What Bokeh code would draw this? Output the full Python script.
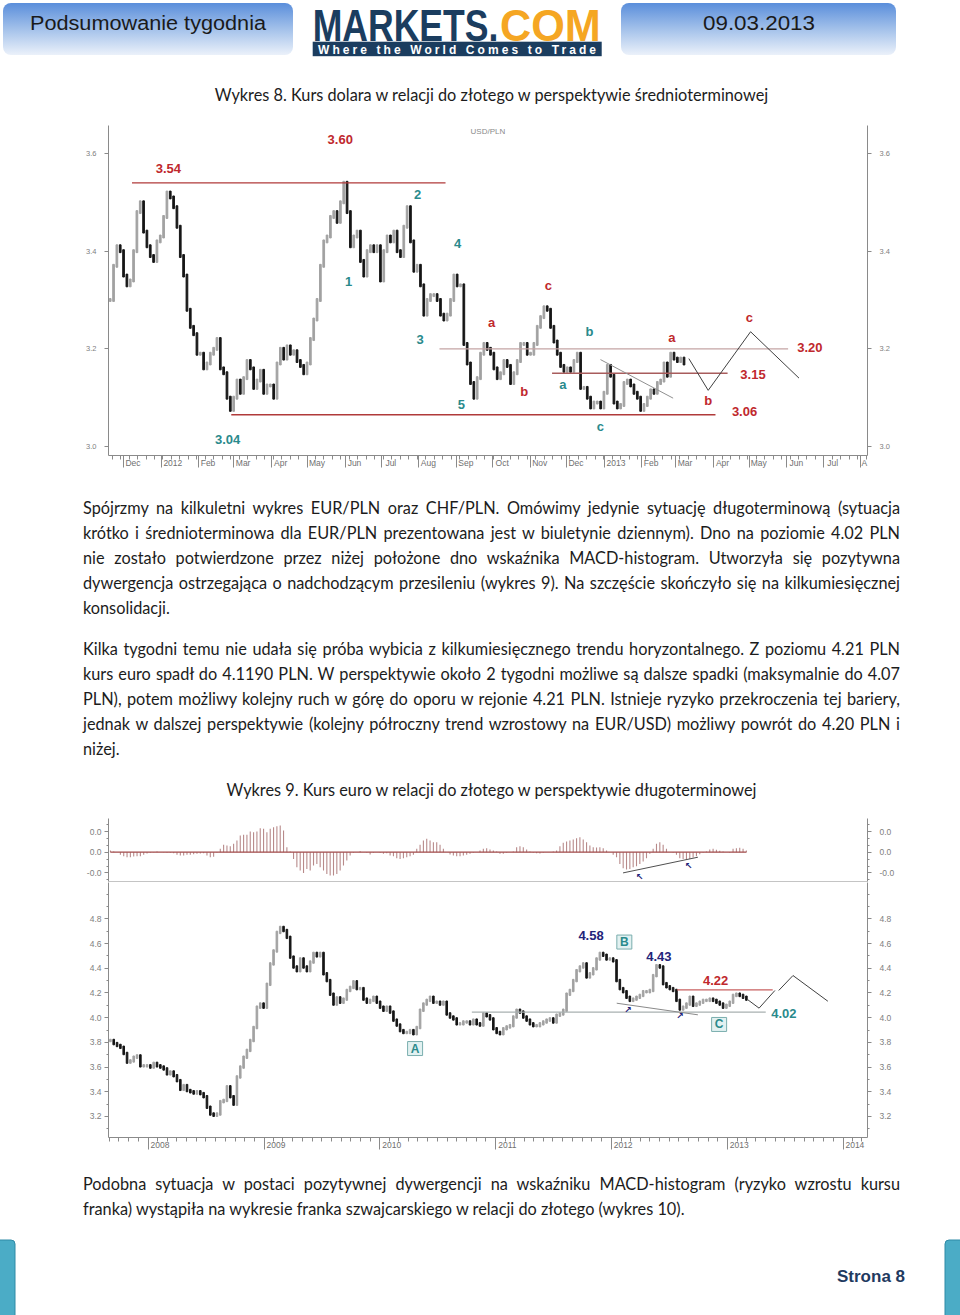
import pandas as pd
from bokeh.plotting import figure
from bokeh.models import (ColumnDataSource, Range1d, FixedTicker, LinearAxis, Span, Div)
from bokeh.layouts import column
from bokeh.core.properties import value
from bokeh.embed import file_html
from bokeh.resources import INLINE

# ---------------------------------------------------------------- data: chart 8 (USD/PLN)
usd_start, usd_end = "2011-11-20", "2013-03-08"
usd_close = [
    3.30, 3.37, 3.41, 3.40, 3.35, 3.33, 3.34, 3.40, 3.48, 3.50,
    3.44, 3.41, 3.39, 3.38, 3.42, 3.43, 3.47, 3.52, 3.51, 3.49,
    3.45, 3.39, 3.35, 3.28, 3.245, 3.23, 3.19, 3.19, 3.16, 3.17,
    3.19, 3.20, 3.22, 3.16, 3.15, 3.10, 3.075, 3.10, 3.135, 3.11,
    3.14, 3.175, 3.16, 3.12, 3.135, 3.155, 3.11, 3.125, 3.125, 3.10,
    3.17, 3.20, 3.18, 3.205, 3.19, 3.195, 3.175, 3.165, 3.15, 3.17,
    3.22, 3.26, 3.30, 3.37, 3.42, 3.43, 3.47, 3.48, 3.46, 3.50,
    3.54, 3.48, 3.41, 3.43, 3.44, 3.38, 3.35, 3.40, 3.41, 3.40,
    3.41, 3.34, 3.40, 3.43, 3.42, 3.44, 3.40, 3.39, 3.45, 3.49,
    3.42, 3.36, 3.37, 3.33, 3.27, 3.30, 3.31, 3.31, 3.30, 3.27,
    3.26, 3.27, 3.30, 3.35, 3.33, 3.33, 3.21, 3.17, 3.13, 3.10,
    3.14, 3.19, 3.21, 3.20, 3.19, 3.16, 3.14,
    3.15, 3.175, 3.165, 3.13, 3.15, 3.175, 3.21, 3.21, 3.19, 3.19,
    3.21, 3.245, 3.265, 3.285, 3.28, 3.245, 3.215, 3.19, 3.165, 3.155,
    3.16, 3.155, 3.175, 3.19, 3.12, 3.12, 3.10, 3.08, 3.09, 3.09,
    3.08, 3.11, 3.165, 3.145, 3.09, 3.08, 3.085, 3.13, 3.135, 3.125,
    3.11, 3.10, 3.075, 3.085, 3.10, 3.115, 3.11, 3.13, 3.135, 3.17,
    3.145, 3.19, 3.18, 3.175, 3.18, 3.17,
]
usd_xlim = ["2011-11-18 14:00", "2013-08-06 14:00"]
usd_ylim = [2.9816, 3.6573]
usd_yticks = [3.0, 3.2, 3.4, 3.6]
usd_month_first, usd_month_last = "2011-12-01", "2013-08-01"
usd_month_labels = ["Dec", "2012", "Feb", "Mar", "Apr", "May", "Jun", "Jul", "Aug", "Sep",
                    "Oct", "Nov", "Dec", "2013", "Feb", "Mar", "Apr", "May", "Jun", "Jul", "A"]
usd_lvl_from = ["2011-12-08", "2012-02-28", "2012-08-18", "2012-11-19"]
usd_lvl_to = ["2012-08-23", "2013-04-03", "2013-06-02", "2013-04-13"]
usd_lvl_val = [3.54, 3.065, 3.20, 3.15]
usd_lvl_col = ["#b03a3a", "#b03a3a", "#c4a4a4", "#a85c5c"]
usd_trend_dates = ["2012-12-29", "2013-02-27"]
usd_trend_vals = [3.178, 3.099]
usd_proj_dates = ["2013-03-12", "2013-03-28", "2013-05-02", "2013-06-11"]
usd_proj_vals = [3.18, 3.115, 3.235, 3.14]
RED, TEAL, NAVY = "#c0282d", "#2a8a8c", "#23247a"
usd_lbl_text = ["3.60", "3.54", "3.04", "1", "2", "3", "4", "5", "a", "b", "c",
                "a", "b", "c", "a", "b", "c", "3.20", "3.15", "3.06"]
usd_lbl_date = ["2012-05-28", "2012-01-07", "2012-02-25", "2012-06-04", "2012-07-31",
                "2012-08-02", "2012-09-02", "2012-09-05", "2012-09-30", "2012-10-27",
                "2012-11-16", "2012-11-28", "2012-12-20", "2012-12-29", "2013-02-26",
                "2013-03-28", "2013-05-01", "2013-06-20", "2013-05-04", "2013-04-27"]
usd_lbl_val = [3.629, 3.569, 3.014, 3.338, 3.516, 3.219, 3.416, 3.086, 3.254, 3.113,
               3.330, 3.127, 3.236, 3.041, 3.223, 3.094, 3.264, 3.203, 3.147, 3.072]
usd_lbl_col = [RED, RED, TEAL, TEAL, TEAL, TEAL, TEAL, TEAL, RED, RED, RED,
               TEAL, TEAL, TEAL, RED, RED, RED, RED, RED, RED]

# ---------------------------------------------------------------- data: chart 9 (EUR/PLN)
eur_start, eur_end = "2007-09-04", "2013-03-02"
eur_close = [
    3.815, 3.79, 3.775, 3.76, 3.71, 3.64, 3.65, 3.68, 3.69, 3.61,
    3.61, 3.61, 3.60, 3.63, 3.61, 3.60, 3.585, 3.545, 3.56, 3.53,
    3.49, 3.42, 3.45, 3.41, 3.40, 3.39, 3.40, 3.385, 3.36, 3.275,
    3.22, 3.21, 3.22, 3.32, 3.33, 3.44, 3.36, 3.30, 3.52, 3.60,
    3.68, 3.735, 3.815, 3.92, 4.085, 4.11, 4.085, 4.27, 4.435, 4.54,
    4.69, 4.73, 4.705, 4.65, 4.49, 4.41, 4.38, 4.475, 4.41, 4.38,
    4.45, 4.52, 4.50, 4.52, 4.355, 4.30, 4.19, 4.11, 4.16, 4.125,
    4.15, 4.22, 4.245, 4.29, 4.235, 4.235, 4.15, 4.125, 4.14, 4.165,
    4.125, 4.085, 4.06, 4.085, 4.045, 3.98, 3.94, 3.895, 3.88, 3.88,
    3.895, 3.87, 3.92, 4.06, 4.11, 4.14, 4.165, 4.125, 4.125, 4.11,
    4.125, 4.03, 4.005, 3.99, 3.95, 3.95, 3.965, 3.965, 3.95, 3.98,
    3.95, 3.94, 4.03, 4.015, 3.99, 3.91, 3.88,
    3.87, 3.91, 3.925, 3.935, 4.005, 4.06, 4.045, 4.005, 3.98, 3.95,
    3.935, 3.935, 3.95, 3.965, 3.98, 3.99, 3.965, 4.02, 4.03, 4.06,
    4.19, 4.22, 4.30, 4.38, 4.41, 4.435, 4.33, 4.355, 4.395, 4.475,
    4.52, 4.505, 4.475, 4.475, 4.46, 4.30, 4.235, 4.21, 4.165, 4.14,
    4.15, 4.165, 4.18, 4.21, 4.21, 4.22, 4.34, 4.42, 4.41, 4.275,
    4.25, 4.235, 4.22, 4.14, 4.07, 4.085, 4.11, 4.165, 4.10, 4.11,
    4.125, 4.14, 4.14, 4.15, 4.14, 4.125, 4.11, 4.085, 4.10, 4.125,
    4.18, 4.19, 4.18, 4.165, 4.15,
]
macd_hist = [
    0.0025, 0.001, 0.0, -0.004, -0.006, -0.0075, -0.0075, -0.0065, -0.006, -0.006,
    -0.004, -0.002, -0.001, -0.0005, 0.001, 0.0, -0.0005, -0.001, -0.001, -0.0015,
    -0.004, -0.005, -0.005, -0.004, -0.004, -0.003, -0.0025, -0.002, -0.0015, -0.005,
    -0.0075, -0.007, -0.001, 0.005, 0.011, 0.010, 0.009, 0.0125, 0.0175, 0.025,
    0.026, 0.026, 0.031, 0.030, 0.031, 0.036, 0.035, 0.030, 0.035, 0.0375,
    0.039, 0.040, 0.0325, 0.0075, 0.001, -0.010, -0.0225, -0.0275, -0.031, -0.025,
    -0.0275, -0.020, -0.0175, -0.0225, -0.0275, -0.0325, -0.035, -0.035, -0.0325, -0.0275,
    -0.020, -0.0125, -0.005, -0.001, 0.0, 0.0015, 0.0, -0.001, -0.0035, -0.001,
    0.0, -0.001, -0.0025, -0.0015, -0.005, -0.006, -0.009, -0.010, -0.009, -0.0075,
    -0.006, -0.004, 0.005, 0.011, 0.0175, 0.020, 0.0175, 0.015, 0.015, 0.011,
    0.005, 0.0, -0.0035, -0.005, -0.006, -0.006, -0.005, -0.004, -0.0025, -0.001,
    0.0, 0.0025, 0.005, 0.006, 0.004, 0.0025, 0.001,
    -0.0025, -0.0025, -0.001, 0.0, 0.001, 0.0075, 0.009, 0.0075, 0.004, 0.001,
    -0.001, -0.0015, -0.002, -0.001, 0.0, 0.0, 0.001, 0.0025, 0.009, 0.014,
    0.016, 0.0175, 0.019, 0.021, 0.0225, 0.019, 0.015, 0.010, 0.0075, 0.007,
    0.0075, 0.006, 0.0025, 0.0, -0.004, -0.0075, -0.0175, -0.024, -0.026, -0.025,
    -0.0225, -0.021, -0.0175, -0.014, -0.009, -0.0025, 0.005, 0.0125, 0.015, 0.011,
    0.005, 0.0, -0.001, -0.004, -0.009, -0.010, -0.011, -0.010, -0.008, -0.006,
    -0.003, -0.001, 0.001, 0.004, 0.005, 0.0035, 0.002, 0.001, 0.0, -0.001,
    0.005, 0.006, 0.0065, 0.005, 0.0025,
]
eur_xlim = ["2007-08-29", "2014-03-19"]
eur_ylim = [3.030, 5.094]
macd_ylim = [-0.0439, 0.0505]
eur_yticks = [3.2, 3.4, 3.6, 3.8, 4.0, 4.2, 4.4, 4.6, 4.8]
eur_yminor = [3.1, 3.2, 3.3, 3.4, 3.5, 3.6, 3.7, 3.8, 3.9, 4.0, 4.1, 4.2, 4.3, 4.4,
              4.5, 4.6, 4.7, 4.8, 4.9, 5.0]
macd_ticks = [-0.031, 0.0, 0.031]
macd_tick_labels = ["-0.0", "0.0", "0.0"]
macd_minor = [-0.0413, -0.031, -0.0207, -0.0103, 0.0, 0.0103, 0.0207, 0.031, 0.0413]
eur_year_ticks = ["2008-01-01", "2009-01-01", "2010-01-01", "2011-01-01",
                  "2012-01-01", "2013-01-01", "2014-01-01"]
eur_year_labels = ["2008", "2009", "2010", "2011", "2012", "2013", "2014"]
eur_lvl_from = ["2012-07-26", "2010-10-18"]
eur_lvl_to = ["2013-05-24", "2013-05-02"]
eur_lvl_val = [4.225, 4.045]
eur_lvl_col = ["#c86060", "#a8b0b0"]
eur_trend_dates = ["2012-01-18", "2012-09-30"]
eur_trend_vals = [4.117, 4.023]
eur_proj1_dates = ["2013-03-07", "2013-04-11", "2013-05-31"]
eur_proj1_vals = [4.144, 4.077, 4.22]
eur_proj2_dates = ["2013-06-12", "2013-07-27", "2013-11-14"]
eur_proj2_vals = [4.22, 4.341, 4.133]
eur_lbl_text = ["4.58", "4.43", "4.22", "4.02"]
eur_lbl_date = ["2011-10-29", "2012-05-30", "2012-11-25", "2013-06-28"]
eur_lbl_val = [4.665, 4.495, 4.30, 4.033]
eur_lbl_col = [NAVY, NAVY, RED, TEAL]
eur_box_text = ["A", "B", "C"]
eur_box_date = ["2010-04-22", "2012-02-11", "2012-12-06"]
eur_box_val = [3.75, 4.612, 3.945]
eur_arrow_date = ["2012-02-22", "2012-08-04"]
eur_arrow_val = [4.058, 4.010]
macd_trend_dates = ["2012-02-07", "2012-09-30"]
macd_trend_vals = [-0.031, -0.0075]
macd_arrow_date = ["2012-03-31", "2012-09-01"]
macd_arrow_val = [-0.0365, -0.020]

# ---------------------------------------------------------------- texts
caption1 = "Wykres 8. Kurs dolara w relacji do złotego w perspektywie średnioterminowej"
caption2 = "Wykres 9. Kurs euro w relacji do złotego w perspektywie długoterminowej"
par1 = ["Spójrzmy na kilkuletni wykres EUR/PLN oraz CHF/PLN. Omówimy jedynie sytuację długoterminową (sytuacja",
        "krótko i średnioterminowa dla EUR/PLN prezentowana jest w biuletynie dziennym). Dno na poziomie 4.02 PLN",
        "nie zostało potwierdzone przez niżej położone dno wskaźnika MACD-histogram. Utworzyła się pozytywna",
        "dywergencja ostrzegająca o nadchodzącym przesileniu (wykres 9). Na szczęście skończyło się na kilkumiesięcznej",
        "konsolidacji."]
par2 = ["Kilka tygodni temu nie udała się próba wybicia z kilkumiesięcznego trendu horyzontalnego. Z poziomu 4.21 PLN",
        "kurs euro spadł do 4.1190 PLN. W perspektywie około 2 tygodni możliwe są dalsze spadki (maksymalnie do 4.07",
        "PLN), potem możliwy kolejny ruch w górę do oporu w rejonie 4.21 PLN. Istnieje ryzyko przekroczenia tej bariery,",
        "jednak w dalszej perspektywie (kolejny półroczny trend wzrostowy na EUR/USD) możliwy powrót do 4.20 PLN i",
        "niżej."]
par3 = ["Podobna sytuacja w postaci pozytywnej dywergencji na wskaźniku MACD-histogram (ryzyko wzrostu kursu",
        "franka) wystąpiła na wykresie franka szwajcarskiego w relacji do złotego (wykres 10)."]
header_left, header_right = "Podsumowanie tygodnia", "09.03.2013"
logo_main, logo_accent, logo_tag = "MARKETS.", "COM", "Where the World Comes to Trade"
footer_text = "Strona 8"


def ms(d):
    return pd.Timestamp(d).value / 1e6


AX = "#8a8a8a"
LBL_FONT = "Liberation Sans"
W = 960
NBSP = "\u00a0"


def base_fig(height, xlim, ylim, top, bottom, below=True):
    p = figure(width=W, height=height, output_backend="svg", toolbar_location=None,
               x_range=Range1d(ms(xlim[0]), ms(xlim[1])), y_range=Range1d(*ylim),
               min_border_left=108, min_border_right=93, min_border_top=top,
               min_border_bottom=bottom, x_axis_location="below" if below else None)
    p.outline_line_color = None
    p.xgrid.visible = False
    p.ygrid.visible = False
    p.background_fill_color = "white"
    p.border_fill_color = "white"
    return p


def style_y(ax, ticks, minor, labels, standoff, size):
    ax.ticker = FixedTicker(ticks=ticks, minor_ticks=minor)
    ax.major_label_overrides = {float(t): l for t, l in zip(ticks, labels)}
    ax.axis_line_color = AX
    ax.major_tick_line_color = AX
    ax.minor_tick_line_color = AX
    ax.major_tick_in = 0
    ax.major_tick_out = 4
    ax.minor_tick_in = 0
    ax.minor_tick_out = 2
    ax.major_label_standoff = standoff
    ax.major_label_text_font = LBL_FONT
    ax.major_label_text_font_size = size
    ax.major_label_text_color = "#808080"


def add_y_axes(p, ticks, minor, labels, left_standoff, size):
    style_y(p.yaxis[0], ticks, minor, labels, left_standoff, size)
    r = LinearAxis()
    style_y(r, ticks, minor, labels, 8, size)
    p.add_layout(r, "right")


def right_of_tick(label):
    # axis labels are centred on their tick: a leading no-break-space pad of about the
    # label's own width makes the visible word start just right of the tick line
    pad = {1: 3, 3: 8, 4: 10}.get(len(label), 2 * len(label) + 2)
    return NBSP * pad + label


def style_x(p, major, minor, labels):
    ax = p.xaxis[0]
    ax.ticker = FixedTicker(ticks=major, minor_ticks=minor)
    ax.major_label_overrides = {float(t): right_of_tick(l) for t, l in zip(major, labels)}
    ax.axis_line_color = AX
    ax.major_tick_line_color = AX
    ax.minor_tick_line_color = AX
    ax.major_tick_in = 0
    ax.major_tick_out = 12
    ax.minor_tick_in = 0
    ax.minor_tick_out = 4
    ax.major_label_standoff = -10
    ax.major_label_text_font = LBL_FONT
    ax.major_label_text_font_size = "8.5px"
    ax.major_label_text_color = "#707070"


def candles(p, dates, closes, width, pad):
    x = [ms(d) for d in dates]
    opens = [closes[0]] + closes[:-1]
    top = [max(o, c) + pad for o, c in zip(opens, closes)]
    bot = [min(o, c) - pad for o, c in zip(opens, closes)]
    col = ["#a2a2a2" if c >= o else "#161616" for o, c in zip(opens, closes)]
    src = ColumnDataSource(dict(x=x, top=top, bottom=bot, color=col))
    p.vbar(x="x", top="top", bottom="bottom", width=width, color="color", source=src)


def text_marks(p, dates, vals, texts, colors, size="13px"):
    src = ColumnDataSource(dict(x=[ms(d) for d in dates], y=vals, t=texts, c=colors))
    p.text(x="x", y="y", text="t", text_color="c", source=src, text_font=value(LBL_FONT),
           text_font_style="bold", text_font_size=size, text_align="center",
           text_baseline="middle")


DAY = 86400000.0

# ---------------------------------------------------------------- chart 8
p1 = base_fig(360, usd_xlim, usd_ylim, 7, 23)
add_y_axes(p1, usd_yticks, [], [f"{t:.1f}" for t in usd_yticks], 8, "7.5px")
months = [ms(d) for d in pd.date_range(usd_month_first, usd_month_last, freq="MS")]
weeks = [ms(d) for d in pd.date_range(usd_xlim[0], usd_xlim[1], freq="W-MON")]
style_x(p1, months, weeks, usd_month_labels)
usd_dates = pd.date_range(usd_start, usd_end, periods=len(usd_close))
candles(p1, usd_dates, usd_close, 1.4 * DAY, 0.003)
p1.segment(x0=[ms(d) for d in usd_lvl_from], x1=[ms(d) for d in usd_lvl_to],
           y0=usd_lvl_val, y1=usd_lvl_val, line_color=usd_lvl_col, line_width=1.3)
p1.line([ms(d) for d in usd_trend_dates], usd_trend_vals, line_color="#909090", line_width=1)
p1.line([ms(d) for d in usd_proj_dates], usd_proj_vals, line_color="#404040", line_width=1)
text_marks(p1, usd_lbl_date, usd_lbl_val, usd_lbl_text, usd_lbl_col)
p1.text(x=[ms("2012-09-27")], y=[3.645], text=["USD/PLN"], text_font=value(LBL_FONT),
        text_font_size="8px", text_color="#8a8a8a", text_align="center",
        text_baseline="middle")

# ---------------------------------------------------------------- chart 9 : MACD panel
eur_dates = pd.date_range(eur_start, eur_end, periods=len(eur_close))
ex = [ms(d) for d in eur_dates]
pm = base_fig(70, eur_xlim, macd_ylim, 6, 1, below=False)
add_y_axes(pm, macd_ticks, macd_minor, macd_tick_labels, 3, "8.5px")
pm.segment(x0=ex, x1=ex, y0=[0] * len(ex), y1=macd_hist, line_color="#b88a8a", line_width=1.1)
pm.line([ex[0], ex[-1]], [0, 0], line_color="#a04848", line_width=1.2)
pm.line([ms(d) for d in macd_trend_dates], macd_trend_vals, line_color="#505050", line_width=1)
pm.text(x=[ms(d) for d in macd_arrow_date], y=macd_arrow_val, text=["↖", "↖"],
        text_font=value("DejaVu Sans"), text_font_size="9px", text_color=NAVY,
        text_align="center", text_baseline="middle", text_font_style="bold")
pm.add_layout(Span(location=macd_ylim[0], dimension="width", line_color="#8a8a8a",
                   line_width=1))

# ---------------------------------------------------------------- chart 9 : price panel
pp = base_fig(273, eur_xlim, eur_ylim, 0, 18)
add_y_axes(pp, eur_yticks, eur_yminor, [f"{t:.1f}" for t in eur_yticks], 3, "8.5px")
emonths = [ms(d) for d in pd.date_range(eur_xlim[0], eur_xlim[1], freq="MS")]
style_x(pp, [ms(d) for d in eur_year_ticks], emonths, eur_year_labels)
candles(pp, eur_dates, eur_close, 5.0 * DAY, 0.01)
pp.segment(x0=[ms(d) for d in eur_lvl_from], x1=[ms(d) for d in eur_lvl_to],
           y0=eur_lvl_val, y1=eur_lvl_val, line_color=eur_lvl_col, line_width=1.2)
pp.line([ms(d) for d in eur_trend_dates], eur_trend_vals, line_color="#8a8a8a", line_width=1)
pp.line([ms(d) for d in eur_proj1_dates], eur_proj1_vals, line_color="#404040", line_width=1)
pp.line([ms(d) for d in eur_proj2_dates], eur_proj2_vals, line_color="#404040", line_width=1)
text_marks(pp, eur_lbl_date, eur_lbl_val, eur_lbl_text, eur_lbl_col)
pp.rect(x=[ms(d) for d in eur_box_date], y=eur_box_val, width=15, height=14,
        width_units="screen", height_units="screen", fill_color="#e2f1f1",
        line_color="#7aaeae", line_width=1)
text_marks(pp, eur_box_date, eur_box_val, eur_box_text, [TEAL] * 3, size="12px")
pp.text(x=[ms(d) for d in eur_arrow_date], y=eur_arrow_val, text=["↗", "↗"],
        text_font=value("DejaVu Sans"), text_font_size="9px", text_color=NAVY,
        text_align="center", text_baseline="middle", text_font_style="bold")

# ---------------------------------------------------------------- HTML blocks
FS = 16.3
ASC = (25 - 1.2 * FS) / 2 + 0.987 * FS   # baseline offset inside a 25px line box


def line(txt, baseline, band_top, mode="justify"):
    top = baseline - ASC - band_top
    last = {"justify": "justify", "left": "left", "center": "center"}[mode]
    align = "center" if mode == "center" else "justify"
    return (f'<div style="position:absolute;left:83px;top:{top:.1f}px;width:817px;'
            f'height:25px;line-height:25px;font-family:Lato;font-size:{FS}px;color:#1c1c1c;'
            f'text-align:{align};text-align-last:{last};">{txt}</div>')


def para(lines, first_baseline, band_top):
    out = []
    for i, t in enumerate(lines):
        out.append(line(t, first_baseline + 25 * i, band_top,
                        "left" if i == len(lines) - 1 else "justify"))
    return "".join(out)


def wrap(inner, h):
    return f'<div style="position:relative;width:{W}px;height:{h}px;">{inner}</div>'


def block(html, h):
    return Div(text=wrap(html, h), width=W, height=h, margin=(0, 0, 0, 0))


LOGO_FONT = "Liberation Sans"
header_svg = f'''
<svg width="960" height="70" style="position:absolute;left:0px;top:0px">
 <defs><linearGradient id="hdrg" x1="0" y1="0" x2="0" y2="1">
  <stop offset="0" stop-color="#5a8edb"/><stop offset="0.5" stop-color="#a3c1ea"/>
  <stop offset="1" stop-color="#ebf1fa"/></linearGradient></defs>
 <rect x="3" y="3" width="290" height="52" rx="8" fill="url(#hdrg)"/>
 <rect x="621" y="3" width="275" height="52" rx="8" fill="url(#hdrg)"/>
 <text x="30" y="30" font-family="Open Sans" font-size="20" fill="#1a1a1a"
   textLength="236" lengthAdjust="spacingAndGlyphs">{header_left}</text>
 <text x="703" y="30" font-family="Open Sans" font-size="20" fill="#1a1a1a"
   textLength="112" lengthAdjust="spacingAndGlyphs">{header_right}</text>
 <g transform="translate(312.7 40.8) scale(0.79 1)">
  <text x="0" y="0" font-family="{LOGO_FONT}" font-weight="bold" font-size="45"
    fill="#1b3d5f">{logo_main}</text></g>
 <g transform="translate(500 40.8) scale(0.96 1)">
  <text x="0" y="0" font-family="{LOGO_FONT}" font-weight="bold" font-size="45"
    fill="#f5a623">{logo_accent}</text></g>
 <rect x="312.7" y="41.7" width="289" height="14.5" fill="#1b3d5f"/>
 <text x="318" y="54" font-family="DejaVu Sans" font-weight="bold" font-size="12" fill="#ffffff"
   textLength="278" lengthAdjust="spacing">{logo_tag}</text>
</svg>'''
header = block(header_svg, 70)
cap1 = block(line(caption1, 100.7, 70, "center"), 48)
mid = block(para(par1, 513.3, 478) + para(par2, 654.3, 478) +
            line(caption2, 795.5, 478, "center"), 334)

footer_svg = f'''
<svg width="960" height="160" style="position:absolute;left:0px;top:0px">
 <rect x="-6" y="85" width="21" height="90" rx="4" fill="#4bacc6" stroke="#2f8aa6" stroke-width="1"/>
 <rect x="945" y="85" width="21" height="90" rx="4" fill="#4bacc6" stroke="#2f8aa6" stroke-width="1"/>
 <text x="837" y="127" font-family="Lato" font-weight="bold" font-size="17" fill="#1f3a5f">{footer_text}</text>
</svg>'''
bottom = block(para(par3, 1189.3, 1155) + footer_svg, 160)

page = column(header, cap1, p1, mid, pm, pp, bottom, spacing=0)

with open("out.html", "w", encoding="utf-8") as f:
    f.write(file_html(page, INLINE))
